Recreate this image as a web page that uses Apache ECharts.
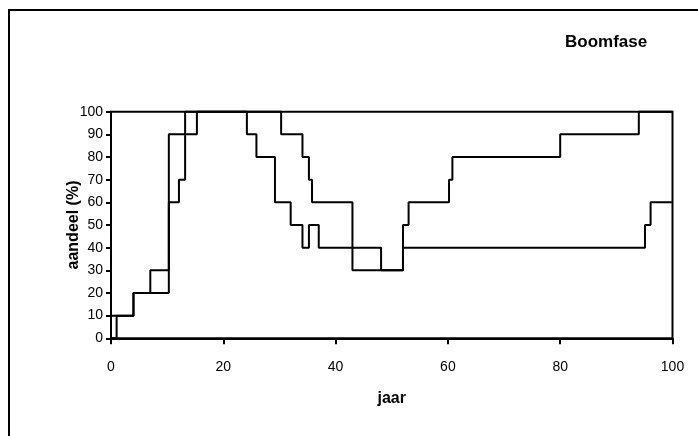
<!DOCTYPE html>
<html>
<head>
<meta charset="utf-8">
<script src="https://cdn.jsdelivr.net/npm/echarts@6/dist/echarts.min.js"></script>
<style>
html,body{margin:0;padding:0;background:#fff;}
#c{width:698px;height:436px;}
</style>
</head>
<body>
<div id="c"></div>
<script>
// Data (step lines, value holds until next x)
var lineAX = [0, 4, 7, 10.3, 12.1, 13.2, 30.3, 34.1, 35.25, 35.8, 43, 52, 53, 60.2, 60.8, 80, 94, 100];
var lineAY = [10, 20, 30, 60, 70, 100, 90, 80, 70, 60, 30, 50, 60, 70, 80, 90, 100, 100];
var lineBX = [0, 1, 4, 10.3, 15.3, 24.2, 25.9, 29.2, 32, 34.1, 35.25, 37, 48.1, 52, 95.1, 96.1, 100];
var lineBY = [0, 10, 20, 90, 100, 90, 80, 60, 50, 40, 50, 40, 30, 40, 50, 60, 60];
var titleText = 'Boomfase';
var xName = 'jaar';
var yName = 'aandeel (%)';

function pairs(xs, ys) { return xs.map(function (x, i) { return [x, ys[i]]; }); }

var chart = echarts.init(document.getElementById('c'), null, {renderer: 'canvas'});
var font = 'Liberation Sans, Arial, sans-serif';
chart.setOption({
  animation: false,
  backgroundColor: '#fff',
  title: {
    text: titleText, left: 560, top: 29,
    textStyle: {fontFamily: font, fontWeight: 'bold', fontSize: 17, color: '#000'}
  },
  graphic: [{
    type: 'rect', shape: {x: 9, y: 10, width: 1000, height: 1000},
    style: {fill: 'none', stroke: '#000', lineWidth: 2}, silent: true
  }],
  grid: {left: 111, right: 25.5, top: 111.7, bottom: 97.7, show: true, borderColor: '#000', borderWidth: 2, backgroundColor: 'transparent'},
  xAxis: {
    type: 'value', min: 0, max: 100, interval: 20,
    name: xName, nameLocation: 'middle', nameGap: 52, nameMoveOverlap: false,
    nameTextStyle: {fontFamily: font, fontWeight: 'bold', fontSize: 16, color: '#000'},
    axisLine: {lineStyle: {color: '#000', width: 2}},
    axisTick: {show: true, length: 6, lineStyle: {color: '#000', width: 2}},
    axisLabel: {fontFamily: font, fontSize: 14, color: '#000', margin: 22},
    splitLine: {show: false}
  },
  yAxis: {
    type: 'value', min: 0, max: 100, interval: 10,
    name: yName, nameLocation: 'middle', nameGap: 29, nameMoveOverlap: false,
    nameTextStyle: {fontFamily: font, fontWeight: 'bold', fontSize: 16, color: '#000'},
    axisLine: {lineStyle: {color: '#000', width: 2}},
    axisTick: {show: true, length: 5, lineStyle: {color: '#000', width: 2}},
    axisLabel: {fontFamily: font, fontSize: 14, color: '#000', margin: 8},
    splitLine: {show: false}
  },
  series: [
    {type: 'line', step: 'end', data: pairs(lineAX, lineAY), symbol: 'none', lineStyle: {color: '#000', width: 2}, clip: false},
    {type: 'line', step: 'end', data: pairs(lineBX, lineBY), symbol: 'none', lineStyle: {color: '#000', width: 2}, clip: false}
  ]
});
</script>
</body>
</html>
